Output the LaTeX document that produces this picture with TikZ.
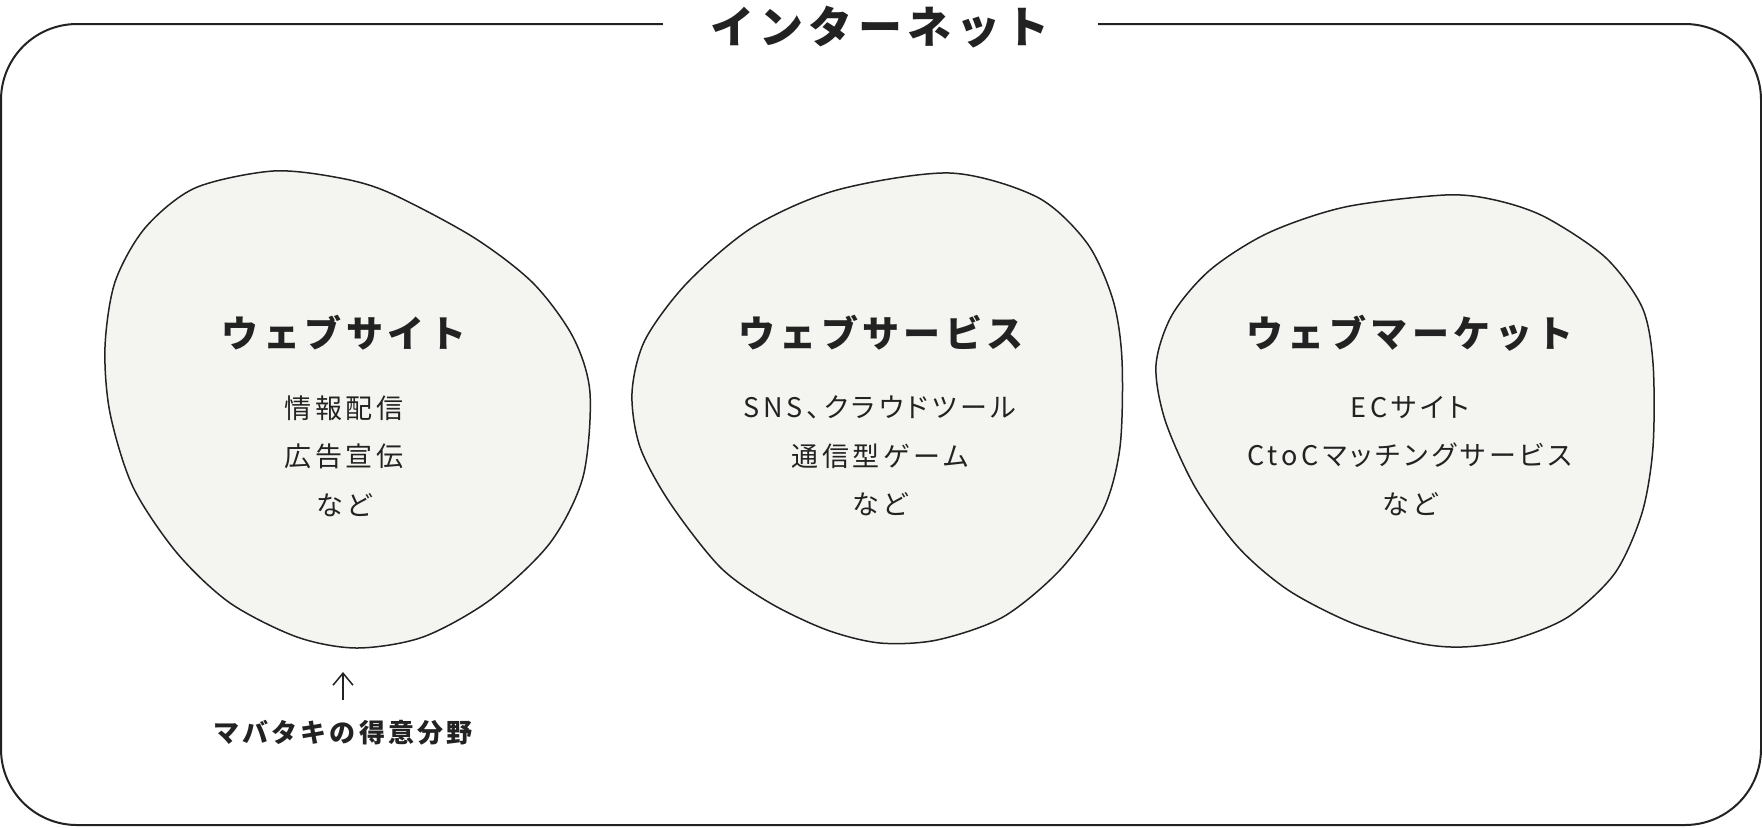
\documentclass[tikz,border=0pt]{standalone}
\usepackage{fontspec}
\usepackage{tikz}
\usetikzlibrary{arrows.meta,positioning}
\setmainfont{Noto Sans CJK JP}
\newfontfamily\trackfont{Noto Sans CJK JP}[LetterSpace=12]
\newfontfamily\bodyfont{Noto Sans CJK JP}[LetterSpace=14,RawFeature=+palt]
\definecolor{ink}{HTML}{222222}
\definecolor{paper}{HTML}{F4F4F1}

\begin{document}
\begin{tikzpicture}[x=0.5pt,y=-0.5pt,
  frame/.style={draw=ink,line width=1pt,rounded corners=38pt},
  blob/.style={draw=ink,fill=paper,line width=0.75pt},
  ttl/.style={fill=white,text=ink,minimum width=217.5pt,inner sep=2pt,
              font=\trackfont\bfseries\fontsize{22}{26}\selectfont},
  head/.style={text=ink,inner sep=0pt,font=\trackfont\bfseries\fontsize{18.5}{22}\selectfont},
  body/.style={text=ink,inner sep=0pt,align=center,
               font=\bodyfont\fontsize{13.5}{24.25}\selectfont},
  note/.style={text=ink,inner sep=0pt,font=\trackfont\bfseries\fontsize{13}{16}\selectfont},
  arr/.style={-{Straight Barb[length=6pt,width=10pt]},draw=ink,line width=0.75pt}
]
  \useasboundingbox (0,0) rectangle (1762,827);
  \draw[frame] (1,24) rectangle (1761,825);
  \node[ttl] (net) at (880,27) {インターネット};

  % three fields
  \draw[blob] plot[smooth cycle] coordinates {(273,171) (340,178) (390,193) (473,237)
    (533,283) (573,337) (590,393) (583,477) (550,543) (490,600) (423,637) (357,648)
    (297,637) (230,603) (177,553) (133,487) (110,413) (105,347) (115,282) (145,228) (195,188)};
  \draw[blob] plot[smooth cycle] coordinates {(950,173) (1037,197) (1087,243) (1113,300)
    (1122,360) (1120,447) (1103,510) (1060,570) (1003,617) (937,640) (880,643) (827,630)
    (770,603) (720,567) (670,503) (640,447) (632,393) (645,340) (687,283) (753,227) (837,190)};
  \draw[blob] plot[smooth cycle] coordinates {(1445,195) (1495,200) (1545,217) (1605,257)
    (1642,307) (1653,363) (1653,447) (1642,513) (1615,573) (1568,617) (1512,640) (1462,647)
    (1418,643) (1352,623) (1288,590) (1238,547) (1195,487) (1165,420) (1156,365)
    (1172,315) (1210,270) (1268,233) (1345,207)};

  \node[head] (site) at (344,333) {ウェブサイト};
  \node[body] (siteTxt) at (344,456) {情報配信\\広告宣伝\\など};
  \node[head] (serv) at (881,333) {ウェブサービス};
  \node[body] (servTxt) at (880,456) {SNS、クラウドツール\\通信型ゲーム\\など};
  \node[head] (mkt) at (1410,333) {ウェブマーケット};
  \node[body] (mktTxt) at (1410,456) {ECサイト\\CtoCマッチングサービス\\など};

  \node[note] (ours) at (343,733) {マバタキの得意分野};
  \coordinate (tip) at (343,672);
  \draw[arr,shorten <=10pt] (ours.north) -- (tip);
\end{tikzpicture}
\end{document}
